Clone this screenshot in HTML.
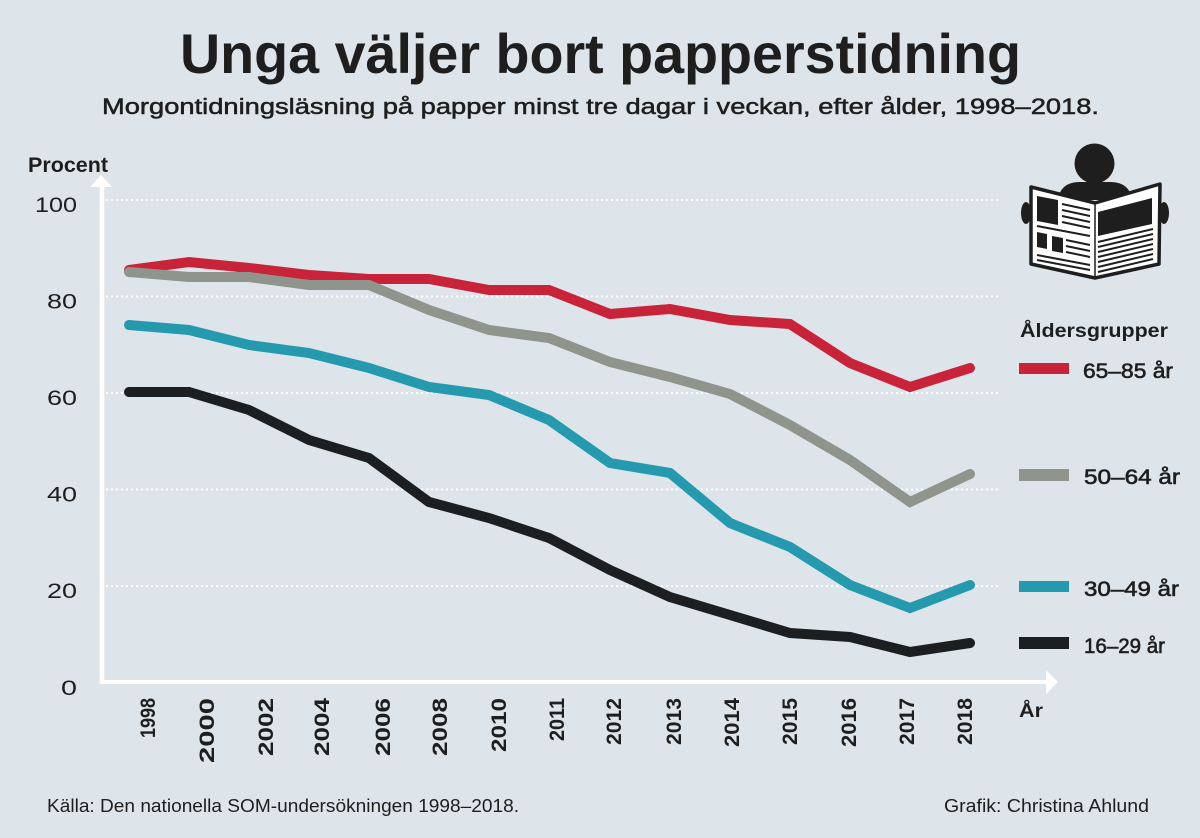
<!DOCTYPE html>
<html>
<head>
<meta charset="utf-8">
<style>
  html,body{margin:0;padding:0;background:#dde5ea;}
  svg{display:block;}
  text{font-family:"Liberation Sans",sans-serif;fill:#1e1e1e;}
</style>
</head>
<body>
<svg width="1200" height="838" viewBox="0 0 1200 838" xmlns="http://www.w3.org/2000/svg">
  <rect x="0" y="0" width="1200" height="838" fill="#dde5ea"/>

  <!-- Title -->
  <text x="180" y="73" font-size="56" font-weight="bold" textLength="841" lengthAdjust="spacingAndGlyphs">Unga väljer bort papperstidning</text>
  <text x="102" y="114" font-size="22" stroke="#1e1e1e" stroke-width="0.5" textLength="997" lengthAdjust="spacingAndGlyphs">Morgontidningsläsning på papper minst tre dagar i veckan, efter ålder, 1998–2018.</text>

  <!-- Y label -->
  <text x="28" y="172" font-size="21" font-weight="bold" textLength="80" lengthAdjust="spacingAndGlyphs">Procent</text>

  <!-- Grid lines -->
  <g stroke="#ffffff" stroke-width="2" stroke-dasharray="2 3">
    <line x1="106" y1="200" x2="998" y2="200"/>
    <line x1="106" y1="296.5" x2="998" y2="296.5"/>
    <line x1="106" y1="393" x2="998" y2="393"/>
    <line x1="106" y1="489.5" x2="998" y2="489.5"/>
    <line x1="106" y1="586" x2="998" y2="586"/>
  </g>

  <!-- Y tick labels -->
  <g font-size="21" text-anchor="end">
    <text x="77" y="212" textLength="42" lengthAdjust="spacingAndGlyphs">100</text>
    <text x="77" y="308.5" textLength="30" lengthAdjust="spacingAndGlyphs">80</text>
    <text x="77" y="405" textLength="30" lengthAdjust="spacingAndGlyphs">60</text>
    <text x="77" y="501.5" textLength="30" lengthAdjust="spacingAndGlyphs">40</text>
    <text x="77" y="598" textLength="30" lengthAdjust="spacingAndGlyphs">20</text>
    <text x="77" y="695" textLength="16" lengthAdjust="spacingAndGlyphs">0</text>
  </g>

  <!-- Axes -->
  <line x1="102" y1="186" x2="102" y2="684" stroke="#ffffff" stroke-width="4.5"/>
  <polygon points="101,175 90,187 112,187" fill="#ffffff"/>
  <line x1="100" y1="682" x2="1047" y2="682" stroke="#ffffff" stroke-width="4"/>
  <polygon points="1058,682 1046,670 1046,694" fill="#ffffff"/>

  <!-- Series -->
  <g fill="none" stroke-width="10" stroke-linecap="round" stroke-linejoin="miter">
    <polyline stroke="#c9233a" points="129,270 189,262 249,268 309,275 369,279 429,279 489,290 549,290 610,314 670,309 730,320 790,324 850,363 910,387 970,368"/>
    <polyline stroke="#8f958c" points="129,272 189,277 249,277 309,285 369,285 429,310 489,330 549,338 610,362 670,377 730,394 790,425 850,460 910,502 970,474"/>
    <polyline stroke="#2599ae" points="129,325 189,330 249,345 309,353 369,368 429,387 489,395 549,420 610,463 670,473 730,523 790,547 850,585 910,608 970,585"/>
    <polyline stroke="#1b1f22" points="129,392 189,392 249,410 309,440 369,458 429,502 489,518 549,538 610,570 670,597 730,615 790,633 850,637 910,652 970,643"/>
  </g>

  <!-- X tick labels -->
  <g font-size="21" font-weight="bold" text-anchor="end">
    <text transform="translate(155,698) rotate(-90)" textLength="40" lengthAdjust="spacingAndGlyphs">1998</text>
    <text transform="translate(214,698) rotate(-90)" textLength="65" lengthAdjust="spacingAndGlyphs">2000</text>
    <text transform="translate(273,698) rotate(-90)" textLength="58" lengthAdjust="spacingAndGlyphs">2002</text>
    <text transform="translate(329,698) rotate(-90)" textLength="58" lengthAdjust="spacingAndGlyphs">2004</text>
    <text transform="translate(390,698) rotate(-90)" textLength="58" lengthAdjust="spacingAndGlyphs">2006</text>
    <text transform="translate(447,698) rotate(-90)" textLength="58" lengthAdjust="spacingAndGlyphs">2008</text>
    <text transform="translate(506,698) rotate(-90)" textLength="54" lengthAdjust="spacingAndGlyphs">2010</text>
    <text transform="translate(564,698) rotate(-90)" textLength="43" lengthAdjust="spacingAndGlyphs">2011</text>
    <text transform="translate(621,698) rotate(-90)" textLength="47" lengthAdjust="spacingAndGlyphs">2012</text>
    <text transform="translate(681,698) rotate(-90)" textLength="47" lengthAdjust="spacingAndGlyphs">2013</text>
    <text transform="translate(739,698) rotate(-90)" textLength="49" lengthAdjust="spacingAndGlyphs">2014</text>
    <text transform="translate(797,698) rotate(-90)" textLength="47" lengthAdjust="spacingAndGlyphs">2015</text>
    <text transform="translate(856,698) rotate(-90)" textLength="49" lengthAdjust="spacingAndGlyphs">2016</text>
    <text transform="translate(914,698) rotate(-90)" textLength="47" lengthAdjust="spacingAndGlyphs">2017</text>
    <text transform="translate(972,698) rotate(-90)" textLength="47" lengthAdjust="spacingAndGlyphs">2018</text>
  </g>
  <text x="1019" y="717" font-size="19" font-weight="bold" textLength="24" lengthAdjust="spacingAndGlyphs">År</text>

  <!-- Legend -->
  <text x="1020" y="337" font-size="19" font-weight="bold" textLength="148" lengthAdjust="spacingAndGlyphs">Åldersgrupper</text>
  <rect x="1019" y="363" width="50" height="11" fill="#c9233a"/>
  <rect x="1019" y="469" width="50" height="12" fill="#8f958c"/>
  <rect x="1019" y="581" width="50" height="11" fill="#2599ae"/>
  <rect x="1019" y="637" width="50" height="12" fill="#1b1f22"/>
  <g font-size="21" stroke="#1e1e1e" stroke-width="0.6">
    <text x="1083" y="378" textLength="90" lengthAdjust="spacingAndGlyphs">65–85 år</text>
    <text x="1084" y="484" textLength="96" lengthAdjust="spacingAndGlyphs">50–64 år</text>
    <text x="1084" y="596" textLength="95" lengthAdjust="spacingAndGlyphs">30–49 år</text>
    <text x="1084" y="653" textLength="81" lengthAdjust="spacingAndGlyphs">16–29 år</text>
  </g>

  <!-- Newspaper reader icon -->
  <g>
    <circle cx="1094.5" cy="163.5" r="20" fill="#1e1e1e"/>
    <path d="M1058,200 Q1060,183 1078,182 L1112,182 Q1130,183 1132,200 Z" fill="#1e1e1e"/>
    <ellipse cx="1026" cy="213" rx="5" ry="11" fill="#1e1e1e"/>
    <ellipse cx="1164" cy="213" rx="5" ry="11" fill="#1e1e1e"/>
    <polygon points="1031,187 1095,203 1160,184 1159,264 1095,278 1031,264" fill="#ffffff" stroke="#1e1e1e" stroke-width="3.5" stroke-linejoin="round"/>
    <line x1="1095" y1="203" x2="1095" y2="278" stroke="#1e1e1e" stroke-width="1.5"/>
    <!-- left page -->
    <polygon points="1037,196 1058,200 1058,225 1037,221" fill="#1e1e1e"/>
    <g stroke="#1e1e1e" stroke-width="2">
      <line x1="1062" y1="204" x2="1090" y2="210"/>
      <line x1="1062" y1="210" x2="1090" y2="216"/>
      <line x1="1062" y1="216" x2="1090" y2="222"/>
      <line x1="1062" y1="222" x2="1090" y2="228"/>
      <line x1="1037" y1="226" x2="1090" y2="236"/>
      <line x1="1066" y1="240" x2="1090" y2="245"/>
      <line x1="1066" y1="246" x2="1090" y2="251"/>
      <line x1="1066" y1="252" x2="1090" y2="257"/>
      <line x1="1037" y1="255" x2="1090" y2="265"/>
      <line x1="1037" y1="260" x2="1090" y2="270"/>
    </g>
    <polygon points="1037,232 1047,234 1047,249 1037,247" fill="#1e1e1e"/>
    <polygon points="1052,236 1063,238 1063,253 1052,251" fill="#1e1e1e"/>
    <!-- right page -->
    <polygon points="1098,212 1152,198 1152,224 1098,236" fill="#1e1e1e"/>
    <g stroke="#1e1e1e" stroke-width="2">
      <line x1="1098" y1="242" x2="1153" y2="229"/>
      <line x1="1098" y1="247" x2="1153" y2="234"/>
      <line x1="1098" y1="252" x2="1153" y2="239"/>
      <line x1="1098" y1="257" x2="1153" y2="244"/>
      <line x1="1098" y1="262" x2="1153" y2="249"/>
      <line x1="1098" y1="267" x2="1153" y2="254"/>
      <line x1="1098" y1="272" x2="1153" y2="259"/>
    </g>
  </g>

  <!-- Footer -->
  <text x="47" y="812" font-size="18" textLength="472" lengthAdjust="spacingAndGlyphs">Källa: Den nationella SOM-undersökningen 1998–2018.</text>
  <text x="944" y="812" font-size="18" textLength="205" lengthAdjust="spacingAndGlyphs">Grafik: Christina Ahlund</text>
</svg>
</body>
</html>
